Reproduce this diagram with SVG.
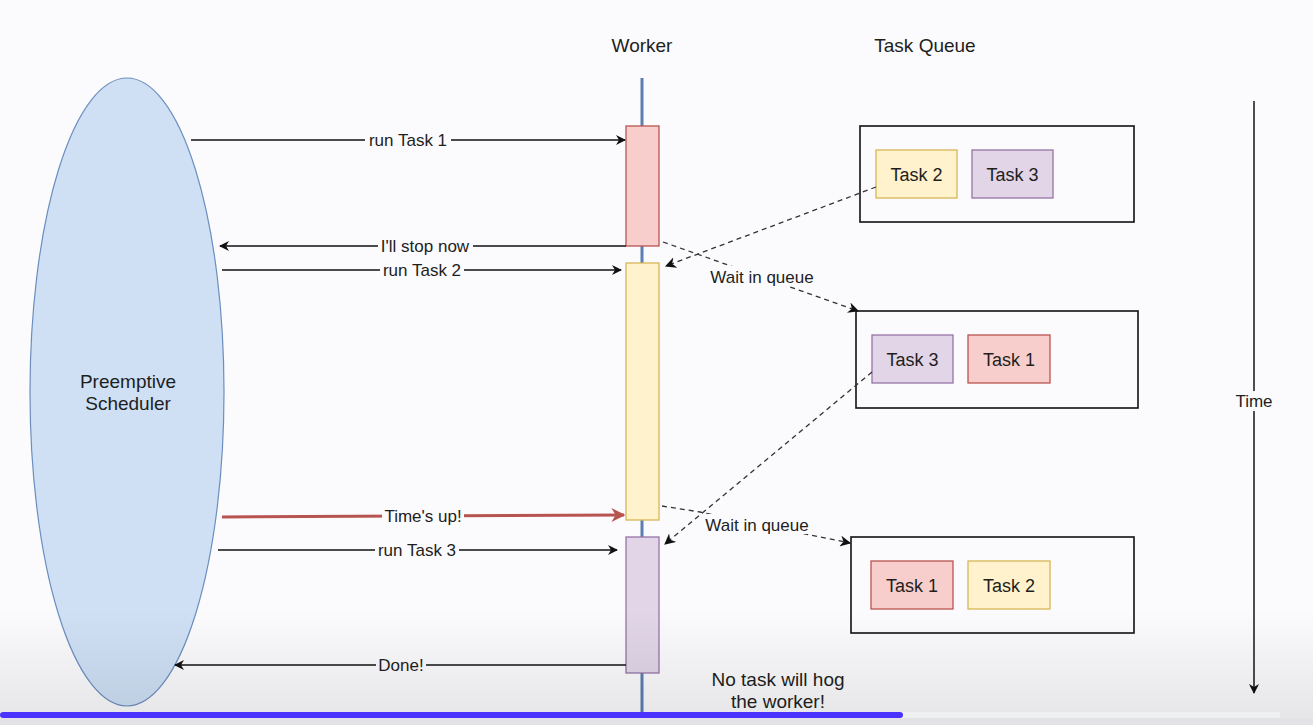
<svg xmlns="http://www.w3.org/2000/svg" width="1313" height="725" viewBox="0 0 1313 725">
<defs>
<style>
text{font-family:"Liberation Sans",Arial,sans-serif;fill:#1e1e1e;}
.t18{font-size:18px;text-anchor:middle;}
.t19{font-size:19px;text-anchor:middle;}
.lbl{font-size:17px;text-anchor:middle;}
.edge{stroke:#111;stroke-width:1.6;fill:none;}
.dash{stroke:#333;stroke-width:1.3;fill:none;stroke-dasharray:5 4;}
.qbox{fill:none;stroke:#111;stroke-width:1.6;}
.red{fill:#f8cecc;stroke:#b85450;stroke-width:1.3;}
.yel{fill:#fff2cc;stroke:#d6b656;stroke-width:1.3;}
.pur{fill:#e1d5e7;stroke:#9673a6;stroke-width:1.3;}
.bg{fill:#fbfbfd;}
</style>
<marker id="ah" viewBox="0 0 10 10" refX="9" refY="5" markerWidth="10" markerHeight="10" markerUnits="userSpaceOnUse" orient="auto">
<path d="M0,0 L10,5 L0,10 L3,5 Z" fill="#111"/>
</marker>
<marker id="ahr" viewBox="0 0 10 10" refX="9" refY="5" markerWidth="14" markerHeight="14" markerUnits="userSpaceOnUse" orient="auto">
<path d="M0,0 L10,5 L0,10 L3,5 Z" fill="#b85450"/>
</marker>
<marker id="ahd" viewBox="0 0 10 10" refX="9" refY="5" markerWidth="11" markerHeight="11" markerUnits="userSpaceOnUse" orient="auto">
<path d="M0,0 L10,5 L0,10 L3,5 Z" fill="#111"/>
</marker>
<linearGradient id="shade" x1="0" y1="0" x2="0" y2="1">
<stop offset="0" stop-color="#000" stop-opacity="0"/>
<stop offset="1" stop-color="#000" stop-opacity="0.09"/>
</linearGradient>
</defs>
<rect width="1313" height="725" fill="#fbfbfd"/>

<g id="titles">
<text class="t19" x="642" y="52">Worker</text>
<text class="t19" x="925" y="52">Task Queue</text>
</g>

<g id="scheduler">
<ellipse cx="127" cy="392" rx="97" ry="314" fill="#cfe0f5" stroke="#6c8ebf" stroke-width="1.2"/>
<text class="t19" x="128" y="388">Preemptive</text>
<text class="t19" x="128" y="410">Scheduler</text>
</g>

<g id="worker">
<line x1="642" y1="78" x2="642" y2="716" stroke="#5a7fb0" stroke-width="3"/>
</g>
<g id="exec-task1"><rect class="red" x="626" y="126" width="33" height="120"/></g>
<g id="exec-task2"><rect class="yel" x="626" y="263" width="33" height="257"/></g>
<g id="exec-task3"><rect class="pur" x="626" y="537" width="33" height="136"/></g>

<g id="queue1">
<rect class="qbox" x="860" y="126" width="274" height="96"/>
<rect class="yel" x="876" y="150" width="81" height="48"/>
<text class="t18" x="916.5" y="181">Task 2</text>
<rect class="pur" x="972" y="150" width="81" height="48"/>
<text class="t18" x="1012.5" y="181">Task 3</text>
</g>
<g id="queue2">
<rect class="qbox" x="856" y="311" width="282" height="97"/>
<rect class="pur" x="872" y="335" width="81" height="48"/>
<text class="t18" x="912.5" y="366">Task 3</text>
<rect class="red" x="968" y="335" width="82" height="48"/>
<text class="t18" x="1009" y="366">Task 1</text>
</g>
<g id="queue3">
<rect class="qbox" x="851" y="537" width="283" height="96"/>
<rect class="red" x="871" y="561" width="82" height="48"/>
<text class="t18" x="912" y="592">Task 1</text>
<rect class="yel" x="968" y="561" width="82" height="48"/>
<text class="t18" x="1009" y="592">Task 2</text>
</g>

<g id="connectors">
<line class="edge" x1="191" y1="140" x2="625" y2="140" marker-end="url(#ah)"/>
<line class="edge" x1="626" y1="246" x2="220" y2="246" marker-end="url(#ah)"/>
<line class="edge" x1="222" y1="270" x2="621" y2="270" marker-end="url(#ah)"/>
<line x1="222" y1="517" x2="624" y2="515" stroke="#b85450" stroke-width="3" marker-end="url(#ahr)"/>
<line class="edge" x1="218" y1="550" x2="617" y2="550" marker-end="url(#ah)"/>
<line class="edge" x1="626" y1="665" x2="175" y2="665" marker-end="url(#ah)"/>

<line class="dash" x1="876" y1="187" x2="666" y2="266" marker-end="url(#ahd)"/>
<line class="dash" x1="663" y1="242" x2="858" y2="311" marker-end="url(#ahd)"/>
<line class="dash" x1="872" y1="372" x2="665" y2="544" marker-end="url(#ahd)"/>
<polyline class="dash" points="662,506 700,512 760,525 850,543" marker-end="url(#ahd)"/>
<line x1="1254" y1="101" x2="1254" y2="693" stroke="#222" stroke-width="1.6" marker-end="url(#ah)"/>
</g>

<g id="labels">
<rect class="bg" x="365" y="131" width="86" height="18"/>
<text class="lbl" x="408" y="146">run Task 1</text>
<rect class="bg" x="378" y="237" width="95" height="18"/>
<text class="lbl" x="425" y="252">I'll stop now</text>
<rect class="bg" x="380" y="261" width="84" height="18"/>
<text class="lbl" x="422" y="276">run Task 2</text>
<rect class="bg" x="382" y="507" width="82" height="18"/>
<text class="lbl" x="423" y="522">Time's up!</text>
<rect class="bg" x="375" y="541" width="84" height="18"/>
<text class="lbl" x="417" y="556">run Task 3</text>
<rect class="bg" x="376" y="656" width="50" height="18"/>
<text class="lbl" x="401" y="671">Done!</text>
<rect class="bg" x="705" y="266" width="114" height="20"/>
<text class="lbl" x="762" y="283">Wait in queue</text>
<rect class="bg" x="700" y="514" width="114" height="20"/>
<text class="lbl" x="757" y="531">Wait in queue</text>
<rect class="bg" x="1234" y="391" width="40" height="20"/>
<text class="lbl" x="1254" y="407">Time</text>
</g>

<g id="note">
<text class="t19" x="778" y="686">No task will hog</text>
<text class="t19" x="778" y="708">the worker!</text>
</g>
<rect x="0" y="610" width="1313" height="115" fill="url(#shade)"/>
<rect x="0" y="712" width="1280" height="6" fill="#eef0f2"/>
<rect x="0" y="712" width="903" height="6" rx="3" fill="#4a32ff"/>
<rect x="0" y="718" width="1313" height="7" fill="#e3e2e6"/>
</svg>
